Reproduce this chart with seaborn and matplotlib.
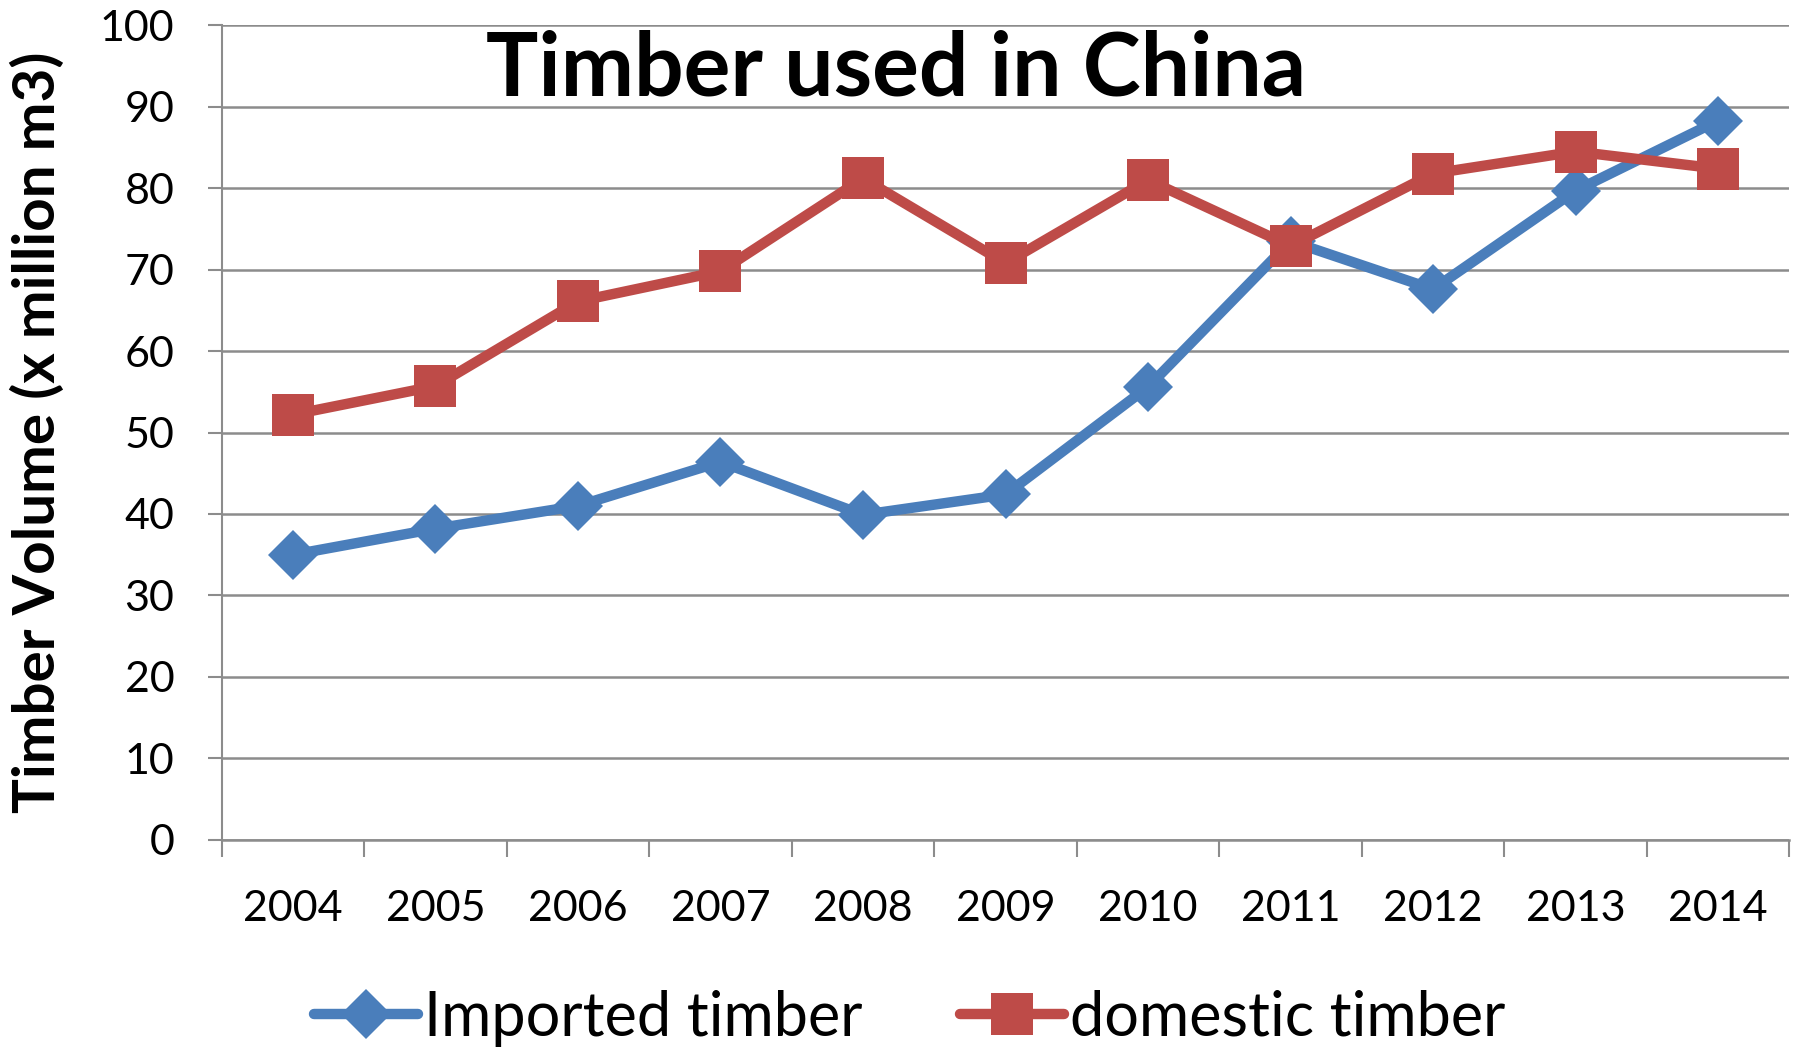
import numpy as np
import pandas as pd
import matplotlib
matplotlib.use('Agg')
import matplotlib.pyplot as plt
from matplotlib.ticker import MultipleLocator, FixedLocator
import seaborn as sns

# ============ 数据 ============
years = [2004, 2005, 2006, 2007, 2008, 2009, 2010, 2011, 2012, 2013, 2014]
imported = [35.0, 38.2, 41.0, 46.4, 39.9, 42.4, 55.6, 73.5, 67.6, 79.7, 88.3]
domestic = [52.2, 55.7, 66.1, 69.8, 81.2, 70.8, 81.0, 72.9, 81.8, 84.5, 82.4]
series_names = ['Imported timber', 'domestic timber']
y_ticks = list(range(0, 101, 10))

df = pd.DataFrame({
    'year': years * 2,
    'volume': imported + domestic,
    'series': [series_names[0]] * len(years) + [series_names[1]] * len(years),
})

sns.set_theme(style='white')
plt.rcParams['font.family'] = ['Lato', 'DejaVu Sans']
plt.rcParams['text.color'] = 'black'
plt.rcParams['xtick.color'] = 'black'
plt.rcParams['ytick.color'] = 'black'
plt.rcParams['axes.labelcolor'] = 'black'

fig = plt.figure(figsize=(18.02, 10.55), dpi=100)
ax = fig.add_axes([0.123, 0.204, 0.870, 0.772])

palette = {series_names[0]: '#4A7EBB', series_names[1]: '#BE4B48'}
sns.lineplot(data=df, x='year', y='volume', hue='series', style='series',
             markers={series_names[0]: 'D', series_names[1]: 's'},
             dashes=False, palette=palette, linewidth=7.5, markersize=25,
             markeredgewidth=0, ax=ax, zorder=3)

# 方块标记调大
for line in ax.get_lines():
    if line.get_marker() == 's':
        line.set_markersize(30)

ax.set_xlim(2003.5, 2014.5)
ax.set_ylim(0, 100)
ax.yaxis.set_major_locator(FixedLocator(y_ticks))
ax.set_xticks(years)
ax.set_xticklabels([str(y) for y in years])
ax.xaxis.set_minor_locator(MultipleLocator(1, offset=0.5))

ax.grid(axis='y', color='#8C8C8C', linewidth=1.8)
ax.set_axisbelow(True)
for side in ['top', 'right']:
    ax.spines[side].set_visible(False)
ax.spines['left'].set_color('#8C8C8C')
ax.spines['bottom'].set_color('#8C8C8C')
ax.spines['left'].set_linewidth(1.5)
ax.spines['bottom'].set_linewidth(1.8)

ax.tick_params(axis='x', which='major', length=0, pad=36, labelsize=31,
               labelcolor='black')
ax.tick_params(axis='x', which='minor', length=12, width=1.5, color='#8C8C8C',
               direction='out', bottom=True)
ax.tick_params(axis='y', length=10, width=1.5, color='#8C8C8C', direction='out',
               left=True, pad=24, labelsize=31, labelcolor='black')

ax.set_xlabel('')
ax.set_ylabel('Timber Volume (x million m3)', fontsize=42, fontweight='bold',
              color='black')
ax.yaxis.set_label_coords(-0.1, 0.5)

ax.text(0.43, 0.945, 'Timber used in China', transform=ax.transAxes,
        ha='center', va='center', fontsize=63, fontweight='bold', color='black')

handles, labels = ax.get_legend_handles_labels()
leg = ax.legend(handles, labels, loc='center', bbox_to_anchor=(0.505, 0.035),
                bbox_transform=fig.transFigure, ncol=2, frameon=False,
                fontsize=44, handlelength=1.7, handletextpad=0.1, columnspacing=1.6)
for t in leg.get_texts():
    t.set_color('black')

fig.savefig('out.png', dpi=100)
